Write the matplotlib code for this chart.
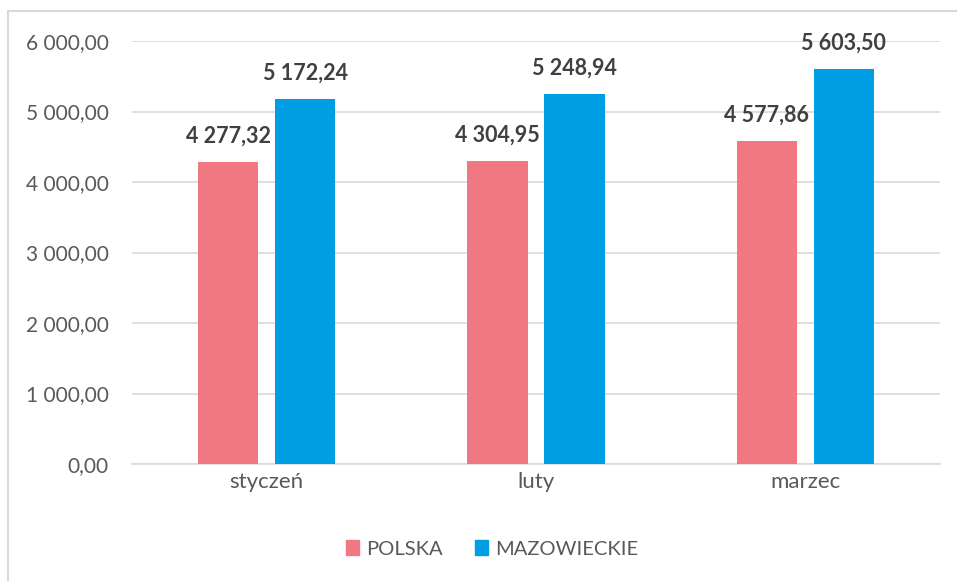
import matplotlib
matplotlib.use("Agg")
import matplotlib.pyplot as plt
from matplotlib.patches import Rectangle, Patch
import numpy as np

categories = ["styczeń", "luty", "marzec"]
polska = [4277.32, 4304.95, 4577.86]
mazowieckie = [5172.24, 5248.94, 5603.50]
series_names = ["POLSKA", "MAZOWIECKIE"]
yticks = [0, 1000, 2000, 3000, 4000, 5000, 6000]

def fmt(v):
    s = f"{v:,.2f}"
    return s.replace(",", " ").replace(".", ",")

plt.rcParams['font.family'] = ['Lato', 'DejaVu Sans']
fig = plt.figure(figsize=(9.57, 5.81), dpi=100)
fig.patches.append(Rectangle((8/957, -0.05), 1.0, 1.05 - 11/581, transform=fig.transFigure,
                             fill=False, edgecolor="#d9d9d9", linewidth=1.5))
ax = fig.add_axes([132/957, 1-464/581, 808/957, 423/581])

x = np.arange(len(categories))
w = 0.223
off = (w + 0.063) / 2
c1, c2 = "#F07882", "#009FE3"
b1 = ax.bar(x - off, polska, w, color=c1, zorder=3)
b2 = ax.bar(x + off, mazowieckie, w, color=c2, zorder=3)
for bars, vals in ((b1, polska), (b2, mazowieckie)):
    for r, v in zip(bars, vals):
        ax.annotate(fmt(v), (r.get_x() + r.get_width()/2, v), xytext=(0, 11),
                    textcoords="offset points", ha="center", va="bottom",
                    fontsize=15.5, fontweight="bold", color="#404040")

ax.set_xlim(-0.5, 2.5)
ax.set_ylim(0, 6000)
ax.set_yticks(yticks)
ax.set_yticklabels([fmt(v) for v in yticks])
ax.set_xticks(x)
ax.set_xticklabels(categories)
ax.tick_params(axis="both", length=0, labelsize=15, labelcolor="#595959")
ax.tick_params(axis="x", labelsize=16, pad=6)
ax.tick_params(axis="y", pad=17)
ax.grid(axis="y", color="#d9d9d9", linewidth=1.2, zorder=0)
for s in ["top", "right", "left"]:
    ax.spines[s].set_visible(False)
ax.spines["bottom"].set_color("#d9d9d9")
ax.spines["bottom"].set_linewidth(1.2)

handles = [Patch(color=c1), Patch(color=c2)]
fig.legend(handles, series_names, loc="center", bbox_to_anchor=(492/957, 1-549/581),
           ncol=2, frameon=False, fontsize=14.5, labelcolor="#595959",
           handlelength=0.65, handleheight=0.7, handletextpad=0.35, columnspacing=1.6)

fig.savefig("out.png", dpi=100)
